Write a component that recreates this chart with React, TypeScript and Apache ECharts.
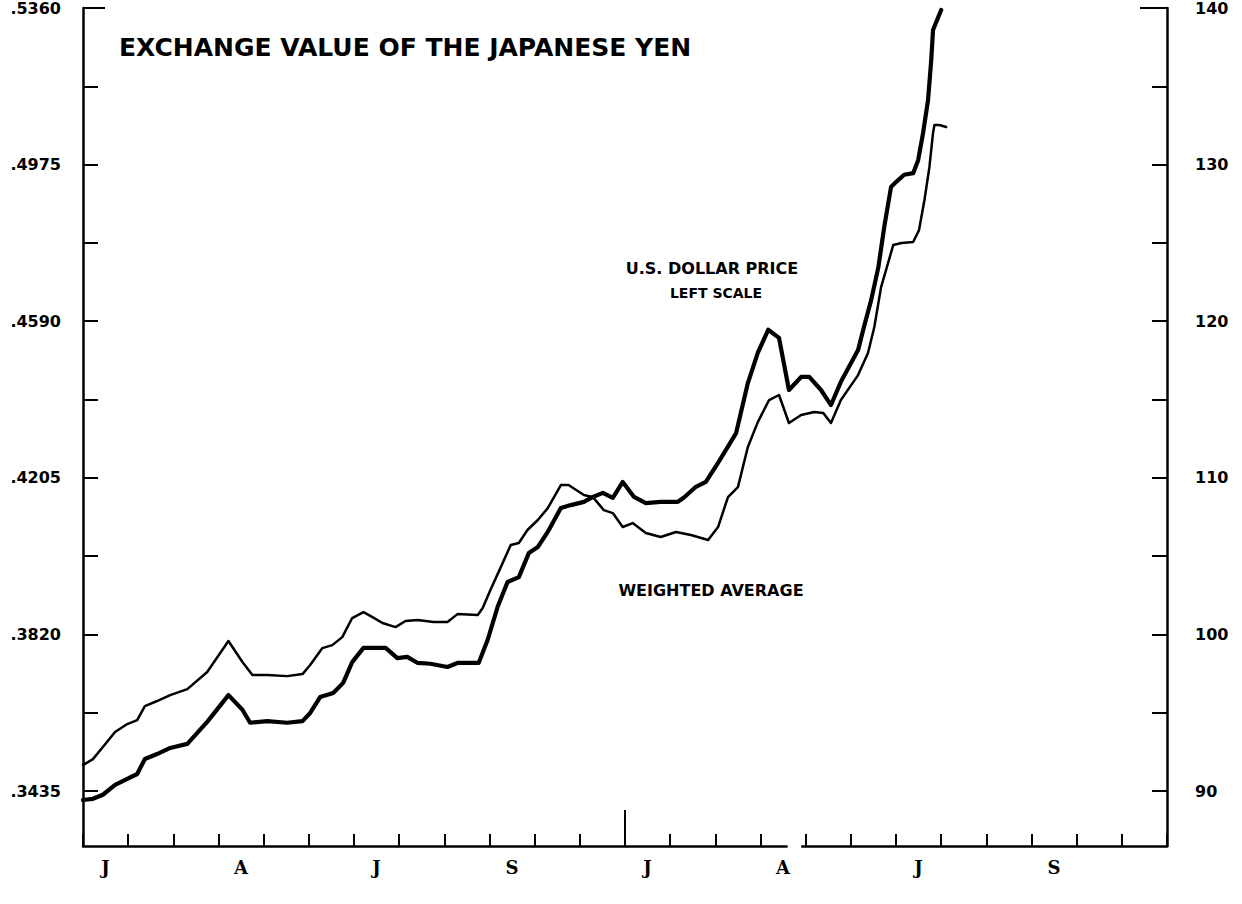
import React, { useEffect, useRef } from "react";
import * as echarts from "echarts";

// x positions are in months from the first January (0 = start of axis)
const usdMonths = [0.0, 0.22, 0.44, 0.71, 0.98, 1.2, 1.37, 1.64, 1.93, 2.31, 2.75, 3.22, 3.53, 3.7, 4.08, 4.52, 4.86, 5.03, 5.25, 5.54, 5.76, 5.96, 6.21, 6.7, 6.96, 7.18, 7.41, 7.69, 8.07, 8.29, 8.76, 8.96, 9.18, 9.4, 9.65, 9.87, 10.07, 10.29, 10.58, 10.8, 11.09, 11.29, 11.51, 11.73, 11.95, 12.2, 12.46, 12.79, 13.17, 13.3, 13.57, 13.79, 14.06, 14.46, 14.72, 14.94, 15.17, 15.41, 15.63, 15.9, 16.08, 16.34, 16.56, 16.78, 17.16, 17.29, 17.45, 17.61, 17.74, 17.89, 18.0, 18.18, 18.38, 18.49, 18.6, 18.71, 18.78, 18.82, 19.0];
const usdPrice = [0.3413, 0.3416, 0.3426, 0.345, 0.3465, 0.3477, 0.3514, 0.3526, 0.3541, 0.3551, 0.3605, 0.3671, 0.3635, 0.3603, 0.3607, 0.3603, 0.3607, 0.3627, 0.3666, 0.3676, 0.3701, 0.3752, 0.3787, 0.3787, 0.3762, 0.3765, 0.375, 0.3748, 0.374, 0.375, 0.375, 0.3807, 0.3888, 0.3949, 0.3961, 0.402, 0.4035, 0.4072, 0.4131, 0.4138, 0.4146, 0.4158, 0.4168, 0.4156, 0.4195, 0.4158, 0.4143, 0.4146, 0.4146, 0.4156, 0.4183, 0.4195, 0.4242, 0.4315, 0.4438, 0.4512, 0.4569, 0.4549, 0.4421, 0.4453, 0.4453, 0.4421, 0.4384, 0.4441, 0.4519, 0.4576, 0.4642, 0.4723, 0.4822, 0.492, 0.4932, 0.495, 0.4954, 0.4986, 0.5053, 0.5134, 0.5232, 0.5306, 0.5355];

const avgMonths = [0.0, 0.22, 0.44, 0.71, 0.98, 1.2, 1.37, 1.64, 1.93, 2.31, 2.75, 3.22, 3.53, 3.75, 4.08, 4.52, 4.86, 5.03, 5.3, 5.52, 5.74, 5.96, 6.21, 6.41, 6.63, 6.92, 7.14, 7.41, 7.76, 8.07, 8.29, 8.74, 8.85, 9.02, 9.25, 9.47, 9.65, 9.84, 10.07, 10.29, 10.58, 10.75, 11.09, 11.29, 11.53, 11.73, 11.95, 12.17, 12.46, 12.79, 13.13, 13.46, 13.84, 14.06, 14.28, 14.5, 14.72, 14.94, 15.19, 15.41, 15.63, 15.9, 16.19, 16.39, 16.56, 16.78, 17.16, 17.38, 17.52, 17.67, 17.94, 18.12, 18.38, 18.51, 18.63, 18.74, 18.82, 18.85, 18.96, 19.11];
const avgIndex = [91.66, 92.04, 92.81, 93.77, 94.28, 94.53, 95.43, 95.75, 96.13, 96.51, 97.6, 99.58, 98.24, 97.41, 97.41, 97.34, 97.47, 98.05, 99.13, 99.32, 99.83, 101.05, 101.43, 101.11, 100.73, 100.47, 100.86, 100.92, 100.79, 100.79, 101.3, 101.24, 101.69, 102.84, 104.3, 105.71, 105.84, 106.67, 107.31, 108.07, 109.54, 109.54, 108.9, 108.77, 107.94, 107.75, 106.86, 107.11, 106.48, 106.22, 106.54, 106.35, 106.03, 106.86, 108.77, 109.41, 111.97, 113.56, 114.97, 115.29, 113.5, 114.01, 114.2, 114.14, 113.5, 114.97, 116.56, 117.97, 119.63, 122.18, 124.87, 124.99, 125.06, 125.82, 127.74, 129.85, 132.02, 132.53, 132.53, 132.4];

const monthLabels = ["J", "", "", "A", "", "", "J", "", "", "S", "", "", "J", "", "", "A", "", "", "J", "", "", "S", "", ""];

const leftTicks = [0.3435, 0.36275, 0.382, 0.40125, 0.4205, 0.43975, 0.459, 0.47825, 0.4975, 0.51675, 0.536];
const leftLabels = [".3435", ".3820", ".4205", ".4590", ".4975", ".5360"];
const rightTicks = [90, 95, 100, 105, 110, 115, 120, 125, 130, 135, 140];
const rightLabels = [90, 100, 110, 120, 130, 140];
const yearTick = [12];
const axisGap = [15.6, 15.9];

const LEFT_MIN = 0.33;
const LEFT_MAX = 0.536;
const RIGHT_MIN = 90 - (0.3435 - LEFT_MIN) / 0.00385;
const RIGHT_MAX = 140;

export default function App() {
  const ref = useRef<HTMLDivElement>(null);
  useEffect(() => {
    document.body.style.margin = "0";
    document.body.style.overflow = "hidden";
    const chart = echarts.init(ref.current!, null, { renderer: "svg" });
    const axisColor = "#000";
    const sans = "DejaVu Sans";
    const hiddenAxis = (position: string, min: number, max: number, vals: number[], len: number) => ({
      type: "value",
      position,
      min,
      max,
      axisLine: { show: false },
      axisLabel: { show: false },
      splitLine: { show: false },
      axisTick: { show: true, inside: true, length: len, customValues: vals, lineStyle: { color: axisColor, width: 2 } },
    });
    const option: any = {
      animation: false,
      backgroundColor: "#fff",
      grid: { left: 83, right: 75, top: 8, bottom: 58, containLabel: false },
      xAxis: [
        {
          type: "category",
          data: monthLabels,
          position: "bottom",
          boundaryGap: true,
          axisLine: { lineStyle: { color: axisColor, width: 2.5 } },
          axisTick: { show: true, inside: true, length: 12, interval: 0, lineStyle: { color: axisColor, width: 2 } },
          axisLabel: {
            interval: 0,
            margin: 12,
            color: "#000",
            fontFamily: "DejaVu Serif",
            fontWeight: "bold",
            fontSize: 18,
          },
          splitLine: { show: false },
        },
        hiddenAxis("bottom", 0, 24, yearTick, 36),
      ],
      yAxis: [
        {
          type: "value",
          position: "left",
          min: LEFT_MIN,
          max: LEFT_MAX,
          axisLine: { show: true, lineStyle: { color: axisColor, width: 2.5 } },
          axisTick: { show: true, inside: true, length: 15, customValues: leftTicks, lineStyle: { color: axisColor, width: 2 } },
          axisLabel: {
            customValues: leftLabels.map((s) => parseFloat(s)),
            formatter: (v: number) => {
              const s = leftLabels.find((l) => Math.abs(parseFloat(l) - v) < 1e-6);
              return s ?? "";
            },
            margin: 22,
            color: "#000",
            fontFamily: sans,
            fontWeight: "bold",
            fontSize: 16,
          },
          splitLine: { show: false },
        },
        {
          type: "value",
          position: "right",
          min: RIGHT_MIN,
          max: RIGHT_MAX,
          axisLine: { show: true, lineStyle: { color: axisColor, width: 2.5 } },
          axisTick: { show: true, inside: true, length: 15, customValues: rightTicks, lineStyle: { color: axisColor, width: 2 } },
          axisLabel: {
            customValues: rightLabels,
            formatter: (v: number) => String(Math.round(v)),
            margin: 28,
            color: "#000",
            fontFamily: sans,
            fontWeight: "bold",
            fontSize: 16,
          },
          splitLine: { show: false },
        },
        hiddenAxis("left", LEFT_MIN, LEFT_MAX, [LEFT_MAX], 22),
        hiddenAxis("right", RIGHT_MIN, RIGHT_MAX, [RIGHT_MAX], 27),
      ],
      series: [
        {
          name: "U.S. Dollar Price",
          type: "line",
          xAxisIndex: 1,
          yAxisIndex: 0,
          data: usdMonths.map((m, i) => [m, usdPrice[i]]),
          showSymbol: false,
          symbol: "none",
          lineStyle: { color: "#000", width: 4.2, join: "round", cap: "round" },
          z: 3,
        },
        {
          name: "Weighted Average",
          type: "line",
          xAxisIndex: 1,
          yAxisIndex: 1,
          data: avgMonths.map((m, i) => [m, avgIndex[i]]),
          showSymbol: false,
          symbol: "none",
          lineStyle: { color: "#000", width: 2.5, join: "round", cap: "round" },
          z: 3,
        },
      ],
      graphic: [
        {
          type: "text",
          left: 119,
          top: 35,
          style: {
            text: "EXCHANGE VALUE OF THE JAPANESE YEN",
            fill: "#000",
            font: `bold 25px "${sans}"`,
          },
        },
        {
          type: "text",
          x: 712,
          y: 268,
          style: {
            text: "U.S. DOLLAR PRICE",
            fill: "#000",
            font: `bold 16px "${sans}"`,
            align: "center",
            verticalAlign: "middle",
          },
        },
        {
          type: "text",
          x: 716,
          y: 293,
          style: {
            text: "LEFT SCALE",
            fill: "#000",
            font: `bold 14px "${sans}"`,
            align: "center",
            verticalAlign: "middle",
          },
        },
        {
          type: "text",
          x: 711,
          y: 590,
          style: {
            text: "WEIGHTED AVERAGE",
            fill: "#000",
            font: `bold 16px "${sans}"`,
            align: "center",
            verticalAlign: "middle",
          },
        },
      ],
    };
    chart.setOption(option);
    const g0 = chart.convertToPixel({ xAxisIndex: 1 }, axisGap[0]) as number;
    const g1 = chart.convertToPixel({ xAxisIndex: 1 }, axisGap[1]) as number;
    const yb = chart.convertToPixel({ yAxisIndex: 0 }, LEFT_MIN) as number;
    chart.setOption({
      graphic: [
        ...option.graphic,
        {
          type: "rect",
          shape: { x: g0, y: yb - 3, width: g1 - g0, height: 6 },
          style: { fill: "#fff" },
          z: 100,
        },
      ],
    });
    return () => chart.dispose();
  }, []);
  return <div ref={ref} style={{ width: 1242, height: 904 }} />;
}
